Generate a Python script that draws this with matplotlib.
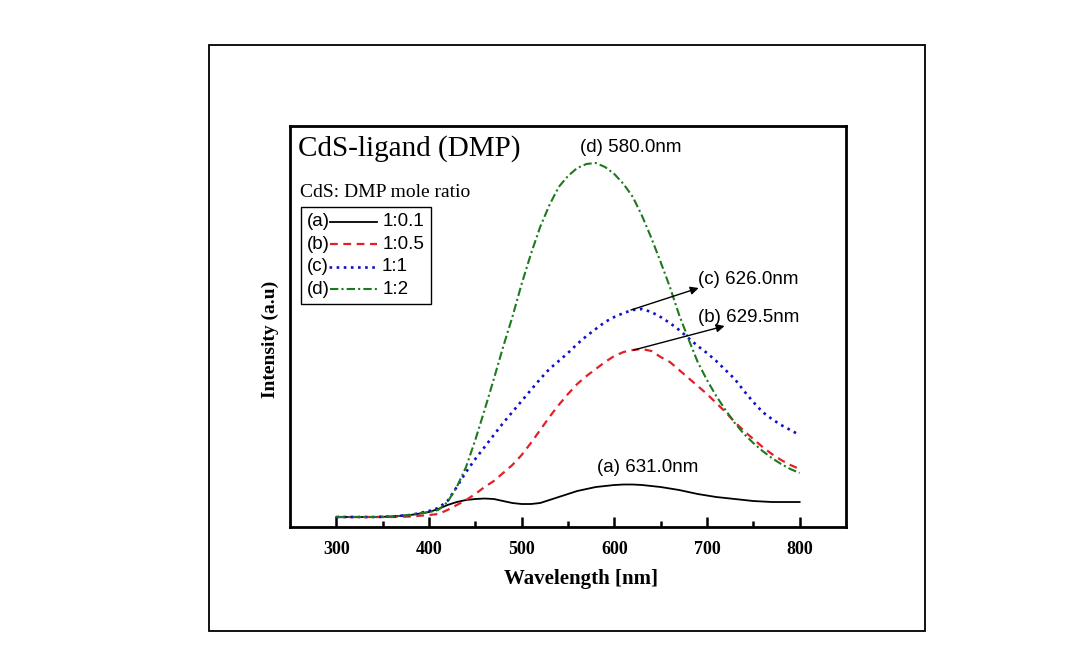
import matplotlib
matplotlib.use("Agg")
from matplotlib import pyplot as plt
from matplotlib.lines import Line2D
from matplotlib.patches import Rectangle
from matplotlib.offsetbox import AnchoredOffsetbox, HPacker, VPacker, TextArea, DrawingArea

# wavelength grid (nm)
wavelength = [300, 320, 340, 360, 380, 400, 410, 420, 430, 440, 450, 460, 470, 480, 490,
              500, 510, 520, 530, 540, 550, 560, 570, 580, 590, 600, 610, 620, 630, 640,
              650, 660, 670, 680, 690, 700, 710, 720, 730, 740, 750, 760, 770, 780, 790, 800]

# intensities (a.u.)
int_a = [10, 10, 10, 10.5, 12, 15, 18, 22, 25, 27, 28, 28.5, 28, 26, 24,
         23, 23, 24, 27, 30, 33, 36, 38, 40, 41, 42, 42.5, 42.5, 42, 41,
         40, 38.5, 37, 35, 33, 31.5, 30, 29, 28, 27, 26, 25.5, 25, 25, 25, 25]
int_b = [10, 10, 10, 10, 10.5, 12, 13, 17, 22, 27, 33, 40, 46, 54, 62,
         72, 84, 97, 110, 122, 133, 143, 151, 158, 165, 171, 175, 177, 178, 176,
         170, 165, 157, 149, 141, 133, 124, 115, 105, 96, 88, 80, 73, 67, 62, 58]
int_c = [10, 10, 10, 10.5, 12, 16, 19, 26, 40, 55, 68, 80, 92, 104, 115,
         126, 137, 148, 158, 166, 174, 183, 191, 198, 205, 210, 214, 217, 218, 215,
         210, 204, 197, 189, 181, 174, 166, 157, 148, 136, 125, 115, 108, 102, 97, 92]
int_d = [10, 10, 10, 10.5, 12, 15, 17, 25, 40, 60, 87, 117, 148, 180, 210,
         243, 273, 300, 322, 340, 351, 359, 363, 364, 360, 353, 343, 330, 311, 289,
         265, 240, 212, 188, 165, 147, 131, 117, 104, 93, 84, 76, 69, 63, 58, 54]

tags = ["(a)", "(b)", "(c)", "(d)"]
ratios = ["1:0.1", "1:0.5", "1:1", "1:2"]
peaks = ["(a) 631.0nm", "(b) 629.5nm", "(c) 626.0nm", "(d) 580.0nm"]

serif = "Liberation Serif"
sans = "Liberation Sans"

styles = [
    dict(color="black", lw=1.3, ls="-"),
    dict(color="#e3202a", lw=1.6, ls=(0, (3.5, 2.5))),
    dict(color="#1010c8", lw=1.9, ls=(0, (1, 1.7))),
    dict(color="#1c7a1c", lw=1.5, ls=(0, (4, 1.5, 1, 1.5))),
]

fig = plt.figure(figsize=(10.84, 6.61), dpi=100)
fig.patches.append(Rectangle((0.1928, 0.0454), 0.6605, 0.8866, transform=fig.transFigure,
                             fill=False, edgecolor="black", lw=1.3))
ax = fig.add_axes([0.2675, 0.2027, 0.5129, 0.6067])

for y, st in zip([int_a, int_b, int_c, int_d], styles):
    ax.plot(wavelength, y, **st)

ax.set_xlim(250, 850)
ax.set_ylim(0, 401)
ax.set_xticks([300, 400, 500, 600, 700, 800])
ax.set_xticks([350, 450, 550, 650, 750], minor=True)
ax.set_yticks([])
ax.tick_params(axis="x", which="major", direction="in", length=7, width=1.8, pad=10)
ax.tick_params(axis="x", which="minor", direction="in", length=4, width=1.8)
for lab in ax.get_xticklabels():
    lab.set_fontfamily(serif)
    lab.set_fontweight("bold")
    lab.set_fontsize(13)
for sp in ax.spines.values():
    sp.set_linewidth(2)

ax.set_xlabel("Wavelength [nm]", fontfamily=serif, fontweight="bold", fontsize=15)
ax.xaxis.set_label_coords(0.523, -0.105)
ax.set_ylabel("Intensity (a.u)", fontfamily=serif, fontweight="bold", fontsize=14)
ax.yaxis.set_label_coords(-0.02, 0.469)

ax.text(0.0144, 0.945, "CdS-ligand (DMP)", transform=ax.transAxes, fontfamily=serif,
        fontsize=21, va="center", ha="left")
ax.text(0.018, 0.835, "CdS: DMP mole ratio", transform=ax.transAxes, fontfamily=serif,
        fontsize=14, va="center", ha="left")

# legend: tag, line sample, ratio
rows = []
for tag, ratio, st in zip(tags, ratios, styles):
    da = DrawingArea(38, 10, 0, 0)
    da.add_artist(Line2D([0, 34], [5, 5], **st))
    rows.append(HPacker(children=[TextArea(tag, textprops=dict(fontfamily=sans, fontsize=13.5)),
                                  da,
                                  TextArea(ratio, textprops=dict(fontfamily=sans, fontsize=13.5))],
                        pad=0, sep=0, align="center"))
box = VPacker(children=rows, pad=0, sep=4, align="left")
leg = AnchoredOffsetbox(loc="upper left", child=box, pad=0.45, borderpad=0, frameon=True,
                        bbox_to_anchor=(0.0198, 0.798), bbox_transform=ax.transAxes)
leg.patch.set_boxstyle("square", pad=0)
leg.patch.set_edgecolor("black")
leg.patch.set_linewidth(1)
ax.add_artist(leg)

# peak labels
ax.text(618, 379, peaks[3], fontfamily=sans, fontsize=13.5, ha="center", va="center")
ax.text(690, 247, peaks[2], fontfamily=sans, fontsize=13.5, ha="left", va="center")
ax.text(690, 210, peaks[1], fontfamily=sans, fontsize=13.5, ha="left", va="center")
ax.text(581, 60, peaks[0], fontfamily=sans, fontsize=13.5, ha="left", va="center")
ax.annotate("", xy=(691, 239), xytext=(618, 217),
            arrowprops=dict(arrowstyle="-|>", color="black", lw=1, mutation_scale=12,
                            shrinkA=0, shrinkB=0))
ax.annotate("", xy=(719, 201), xytext=(621, 177),
            arrowprops=dict(arrowstyle="-|>", color="black", lw=1, mutation_scale=12,
                            shrinkA=0, shrinkB=0))

fig.savefig("out.png", dpi=100)
